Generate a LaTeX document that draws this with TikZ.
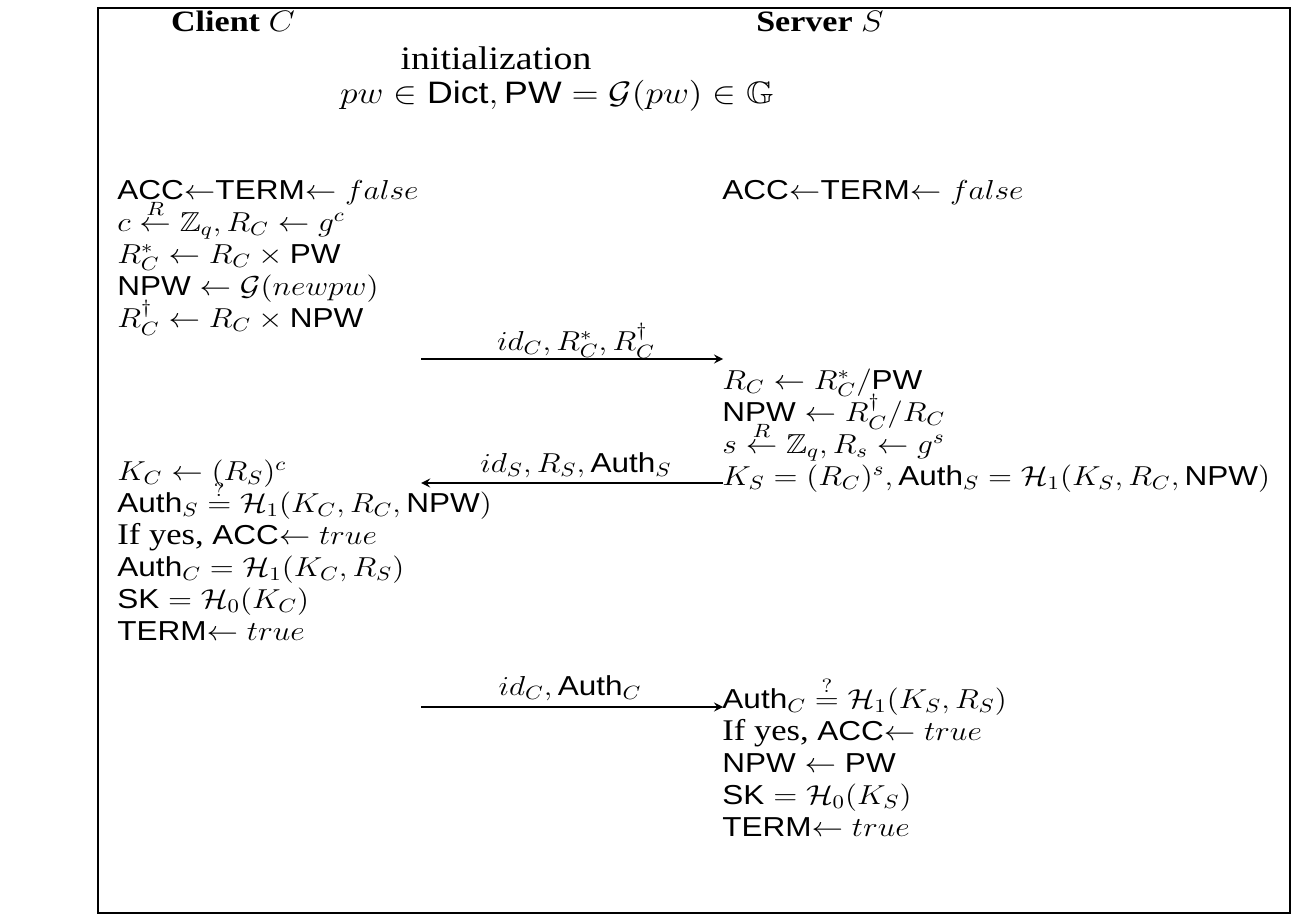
\RequirePackage{fix-cm}
\documentclass[tikz,border=0pt]{standalone}
\usepackage{amsmath,amssymb}
\usepackage[no-math]{fontspec}
\setmainfont{Liberation Serif}
\setsansfont{Liberation Sans}
\usetikzlibrary{arrows}
\tikzset{>={stealth}}
\tikzset{
  txt/.style={anchor=base west,inner sep=0pt,font=\fontsize{13.7}{16}\selectfont},
  head/.style={anchor=base,inner sep=0pt,font=\fontsize{14.8}{18}\selectfont},
  lbl/.style={anchor=base,inner sep=0pt,font=\fontsize{13.7}{16}\selectfont},
  msg/.style={->,line width=1pt}
}
\newcommand{\sw}[1]{\textsf{#1}}
\newcommand{\ifyes}{{\fontsize{15}{17}\selectfont If yes,\ }}
\begin{document}
\begin{tikzpicture}[x=0.43478pt,y=-0.5pt,xscale=1.15,transform shape]
\useasboundingbox (0,0) rectangle (1306,917);
\draw[line width=1.4pt] (98,8) rectangle (1290,913);
\node[head] (client) at (233,31) {\textbf{Client} $C$};
\node[head] (server) at (820,31) {\textbf{Server} $S$};
\node[head,font=\fontsize{16.4}{18}\selectfont] (init) at (496,69) {initialization};
\node[lbl,font=\fontsize{15.5}{18}\selectfont] (dict) at (557,103) {$pw\in\sw{Dict},\sw{PW}=\mathcal{G}(pw)\in\mathbb{G}$};

\node[txt] (c1) at (117,199) {\sw{ACC}$\leftarrow$\sw{TERM}$\leftarrow false$};
\node[txt] (c2) at (117,231) {$c\stackrel{R}{\leftarrow}\mathbb{Z}_q,R_C\leftarrow g^c$};
\node[txt] (c3) at (117,263) {$R_C^*\leftarrow R_C\times\sw{PW}$};
\node[txt] (c4) at (117,295) {$\sw{NPW}\leftarrow\mathcal{G}(newpw)$};
\node[txt] (c5) at (117,327) {$R_C^\dagger\leftarrow R_C\times\sw{NPW}$};
\node[txt] (s1) at (722,199) {\sw{ACC}$\leftarrow$\sw{TERM}$\leftarrow false$};

\node[lbl] (m1) at (576,350) {$id_C,R_C^*,R_C^\dagger$};
\coordinate (m1a) at (421,359);
\coordinate (m1b) at (723,359);
\draw[msg] (m1a) -- (m1b);

\node[txt] (s2) at (722,389) {$R_C\leftarrow R_C^*/\sw{PW}$};
\node[txt] (s3) at (722,421) {$\sw{NPW}\leftarrow R_C^\dagger/R_C$};
\node[txt] (s4) at (722,453) {$s\stackrel{R}{\leftarrow}\mathbb{Z}_q,R_s\leftarrow g^s$};
\node[txt] (s5) at (722,485) {$K_S=(R_C)^s,\sw{Auth}_S=\mathcal{H}_1(K_S,R_C,\sw{NPW})$};

\node[lbl] (m2) at (576,472) {$id_S,R_S,\sw{Auth}_S$};
\coordinate (m2a) at (723,483);
\coordinate (m2b) at (421,483);
\draw[msg] (m2a) -- (m2b);

\node[txt] (c6) at (117,480) {$K_C\leftarrow(R_S)^c$};
\node[txt] (c7) at (117,512) {$\sw{Auth}_S\stackrel{?}{=}\mathcal{H}_1(K_C,R_C,\sw{NPW})$};
\node[txt] (c8) at (117,544) {\ifyes\sw{ACC}$\leftarrow true$};
\node[txt] (c9) at (117,576) {$\sw{Auth}_C=\mathcal{H}_1(K_C,R_S)$};
\node[txt] (c10) at (117,608) {$\sw{SK}=\mathcal{H}_0(K_C)$};
\node[txt] (c11) at (117,640) {\sw{TERM}$\leftarrow true$};

\node[lbl] (m3) at (570,695) {$id_C,\sw{Auth}_C$};
\coordinate (m3a) at (421,707);
\coordinate (m3b) at (723,707);
\draw[msg] (m3a) -- (m3b);

\node[txt] (s6) at (722,708) {$\sw{Auth}_C\stackrel{?}{=}\mathcal{H}_1(K_S,R_S)$};
\node[txt] (s7) at (722,740) {\ifyes\sw{ACC}$\leftarrow true$};
\node[txt] (s8) at (722,772) {$\sw{NPW}\leftarrow\sw{PW}$};
\node[txt] (s9) at (722,804) {$\sw{SK}=\mathcal{H}_0(K_S)$};
\node[txt] (s10) at (722,836) {\sw{TERM}$\leftarrow true$};
\end{tikzpicture}
\end{document}
